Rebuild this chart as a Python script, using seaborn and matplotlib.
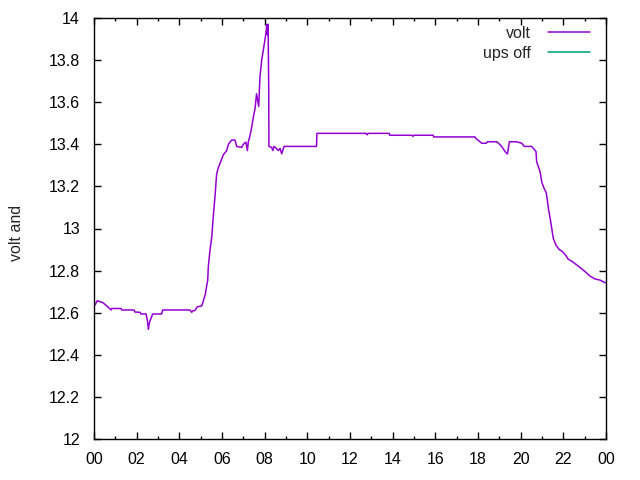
import numpy as np
import pandas as pd
import seaborn as sns
import matplotlib

matplotlib.use('Agg')
import matplotlib.pyplot as plt
from matplotlib.ticker import MultipleLocator, FuncFormatter

# 读数：小时（0-24）与电压
hours = [0.00, 0.05, 0.15, 0.41, 0.60, 0.80, 0.83, 1.27, 1.30, 1.875, 1.92,
         2.16, 2.20, 2.44, 2.50, 2.55, 2.59, 2.67, 2.75, 3.17, 3.22, 4.50,
         4.58, 4.65, 4.73, 4.84, 5.05, 5.10, 5.16, 5.22, 5.28, 5.33,
         5.36, 5.44, 5.52, 5.59, 5.67, 5.75, 5.83, 5.91, 6.06, 6.22, 6.30,
         6.45, 6.61, 6.69, 6.92, 7.00, 7.12, 7.19, 7.23, 7.31, 7.39, 7.47,
         7.55, 7.62, 7.67, 7.72, 7.78, 7.86, 7.94, 8.02, 8.06, 8.10, 8.13,
         8.16, 8.19, 8.20, 8.33, 8.38, 8.44, 8.56, 8.64, 8.72, 8.80, 8.91,
         10.43, 10.45, 12.75, 12.80, 12.85, 13.84, 13.86, 14.90, 14.95,
         15.00, 15.90, 15.92, 17.86, 17.90, 18.00, 18.17, 18.38, 18.44,
         18.88, 18.96, 19.11, 19.27, 19.38, 19.47, 19.81, 20.05, 20.17,
         20.52, 20.60, 20.72, 20.75, 20.83, 20.91, 20.99, 21.10, 21.20,
         21.25, 21.31, 21.38, 21.46, 21.53, 21.66, 21.81, 21.97, 22.13,
         22.23, 22.39, 22.63, 22.78, 23.02, 23.25, 23.49, 23.72, 23.95, 24.00]
volts = [12.637, 12.637, 12.657, 12.648, 12.632, 12.613, 12.62, 12.62, 12.613,
         12.613, 12.603, 12.602, 12.594, 12.594, 12.565, 12.521, 12.55,
         12.573, 12.594, 12.594, 12.613, 12.613, 12.602, 12.61, 12.61,
         12.628, 12.632, 12.648, 12.668, 12.689, 12.727, 12.755,
         12.82, 12.90, 12.96, 13.056, 13.15, 13.26, 13.29, 13.31, 13.35,
         13.37, 13.40, 13.42, 13.42, 13.39, 13.385, 13.40, 13.41, 13.37,
         13.41, 13.44, 13.48, 13.53, 13.57, 13.64, 13.61, 13.58, 13.72,
         13.80, 13.85, 13.90, 13.93, 13.97, 13.92, 13.97, 13.67, 13.39,
         13.385, 13.37, 13.39, 13.38, 13.37, 13.38, 13.355, 13.39,
         13.39, 13.452, 13.452, 13.445, 13.452, 13.452, 13.443, 13.443,
         13.438, 13.443, 13.443, 13.435, 13.435, 13.427, 13.42, 13.405,
         13.405, 13.412, 13.412, 13.405, 13.39, 13.365, 13.354, 13.412,
         13.412, 13.405, 13.39, 13.39, 13.38, 13.365, 13.317, 13.294,
         13.27, 13.22, 13.19, 13.17, 13.135, 13.088, 13.05, 13.00, 12.953,
         12.92, 12.90, 12.89, 12.87, 12.854, 12.845, 12.827, 12.815,
         12.795, 12.774, 12.76, 12.755, 12.743, 12.743]
series_names = ["volt", "ups off"]
series_colors = ["#9400D3", "#009E73"]
x_ticks = [0, 2, 4, 6, 8, 10, 12, 14, 16, 18, 20, 22, 24]
x_labels = ["00", "02", "04", "06", "08", "10", "12", "14", "16", "18", "20", "22", "00"]

df = pd.DataFrame({"hour": hours, "volt": volts})

sns.set_style("ticks")
plt.rcParams['font.family'] = ['Liberation Sans', 'DejaVu Sans']

fig = plt.figure(figsize=(6.4, 4.8), dpi=100)
ax = fig.add_axes([94 / 640, 1 - 439 / 480, 512 / 640, 421 / 480])

sns.lineplot(data=df, x="hour", y="volt", ax=ax, color=series_colors[0],
             lw=1.1, estimator=None, sort=False, label=series_names[0])
ax.plot([], [], color=series_colors[1], lw=1.1, label=series_names[1])

ax.set_xlim(0, 24)
ax.set_ylim(12, 14)
ax.set_xticks(x_ticks)
ax.set_xticklabels(x_labels)
ax.xaxis.set_minor_locator(MultipleLocator(1))
ax.yaxis.set_major_locator(MultipleLocator(0.2))
ax.yaxis.set_major_formatter(FuncFormatter(lambda v, p: f"{v:g}"))

ax.tick_params(which="both", direction="in", top=True, right=True, colors="black",
               labelsize=11.5, width=1)
ax.tick_params(which="major", length=5)
ax.tick_params(which="minor", length=2.5)
ax.tick_params(axis="y", pad=10)
ax.tick_params(axis="x", pad=9)
for s in ax.spines.values():
    s.set_visible(True)
    s.set_color("black")
    s.set_linewidth(1)

ax.set_xlabel("")
ax.set_ylabel("volt and", fontsize=11.5)
ax.yaxis.set_label_coords(-0.137, 0.49)

ax.legend(loc="upper right", bbox_to_anchor=(1 - 16 / 512, 1 - 8 / 421),
          frameon=False, markerfirst=False, fontsize=11.5,
          handlelength=2.6, handletextpad=1.1, labelspacing=0.3,
          borderaxespad=0, borderpad=0)

fig.savefig("out.png", dpi=100)
